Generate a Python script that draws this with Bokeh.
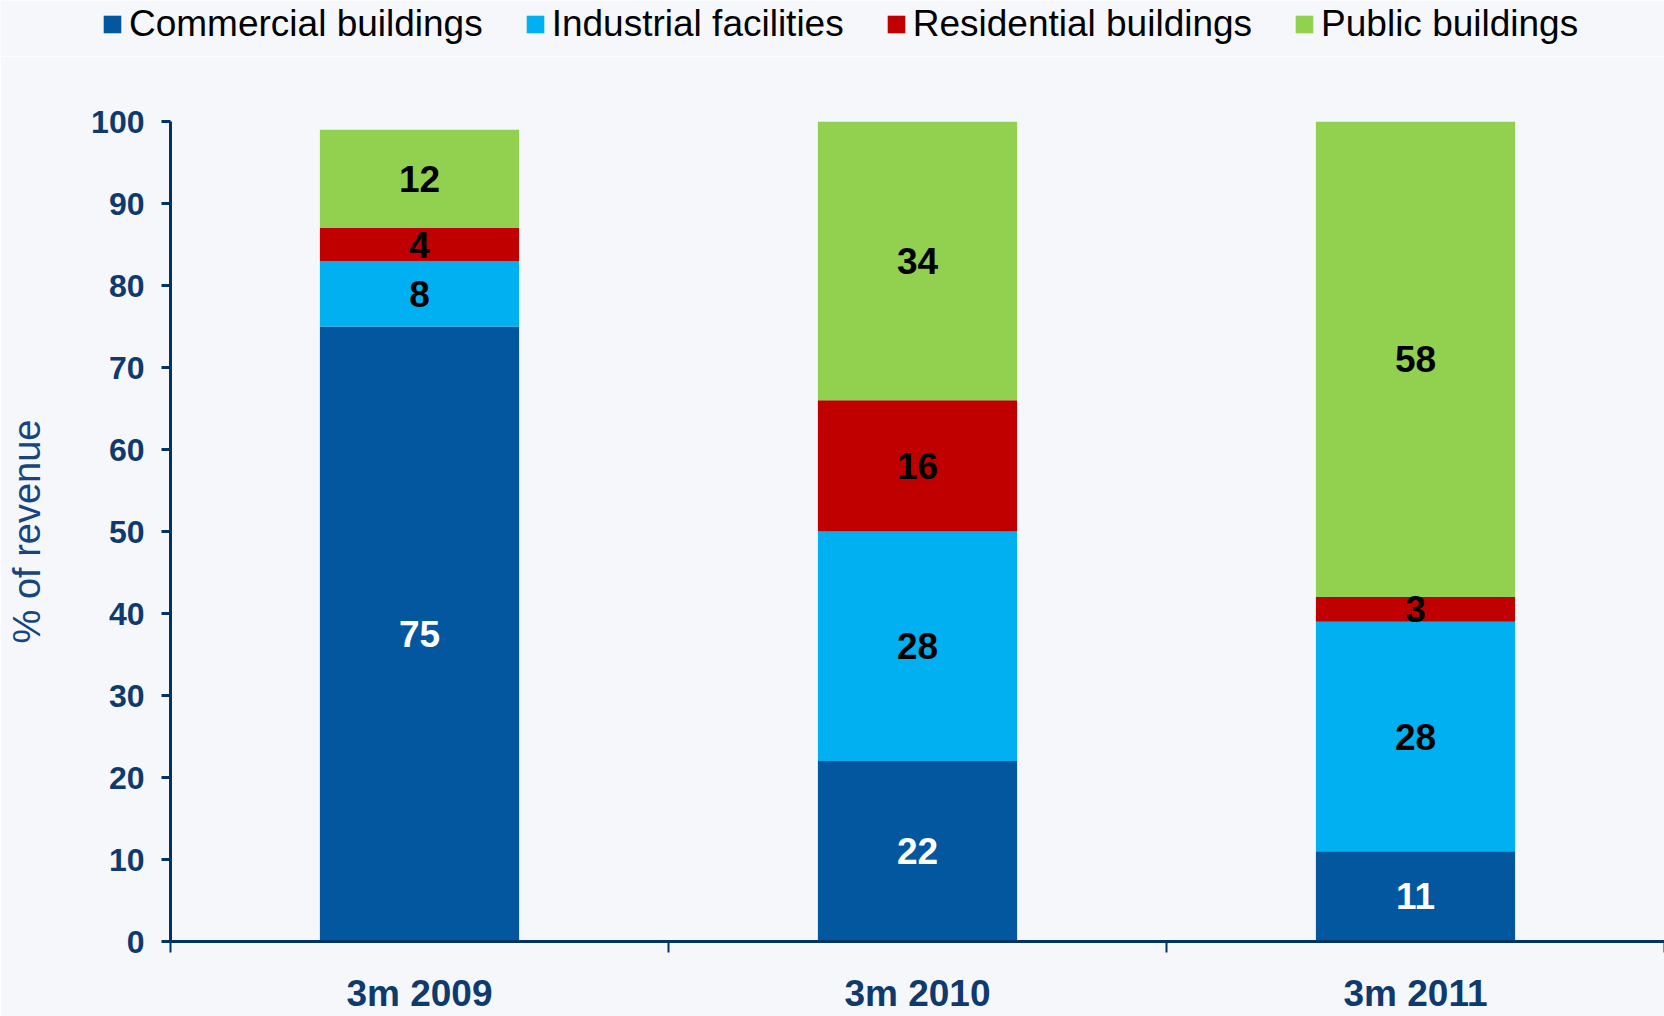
from bokeh.plotting import figure
from bokeh.layouts import column
from bokeh.models import ColumnDataSource, Range1d, FixedTicker, Legend, LegendItem
from bokeh.core.properties import value
from bokeh.embed import file_html
from bokeh.resources import INLINE

# ---- data ----
periods = ["3m 2009", "3m 2010", "3m 2011"]
series = ["Commercial buildings", "Industrial facilities", "Residential buildings", "Public buildings"]
commercial = [75, 22, 11]
industrial = [8, 28, 28]
residential = [4, 16, 3]
public = [12, 34, 58]
colors = ["#03579F", "#00B0F0", "#C00000", "#92D050"]
label_colors = ["white", "black", "black", "black"]
y_ticks = [0, 10, 20, 30, 40, 50, 60, 70, 80, 90, 100]

FONT = "Liberation Sans"
NAVY = "#003366"
BG = "#F5F7FB"

W = 1664
LEG_H = 56
FRAME_LEFT = 170
xs = [i + 0.5 for i in range(len(periods))]
keys = ["commercial", "industrial", "residential", "public"]
data = dict(x=xs, commercial=commercial, industrial=industrial,
            residential=residential, public=public)
src = ColumnDataSource(data)

# ---- main chart ----
p = figure(width=W, height=1016 - LEG_H, output_backend="svg", toolbar_location=None,
           x_range=Range1d(0, len(periods)), y_range=Range1d(0, 100),
           min_border_left=FRAME_LEFT, min_border_right=0, min_border_top=121 - LEG_H,
           min_border_bottom=74)
p.frame_align = False
p.background_fill_color = BG
p.border_fill_color = BG
p.outline_line_color = None
p.grid.visible = False

renderers = p.vbar_stack(keys, x="x", width=0.4, color=colors, source=src,
                         line_color=None)

# segment labels
bottoms = [0] * len(periods)
for k, vals, lc in zip(keys, [commercial, industrial, residential, public], label_colors):
    mids = [b + v / 2 for b, v in zip(bottoms, vals)]
    bottoms = [b + v for b, v in zip(bottoms, vals)]
    ls = ColumnDataSource(dict(x=xs, y=mids, t=[str(v) for v in vals]))
    p.text(x="x", y="y", text="t", source=ls, text_align="center", text_baseline="middle",
           text_font=value(FONT), text_font_style="bold", text_font_size="37px",
           text_color=lc)

# x axis: labels at centers, ticks at boundaries
xa = p.xaxis[0]
xa.ticker = FixedTicker(ticks=xs, minor_ticks=list(range(len(periods) + 1)))
xa.major_label_overrides = {x: lab for x, lab in zip(xs, periods)}
xa.major_tick_out = 0
xa.major_tick_in = 0
xa.minor_tick_out = 11
xa.minor_tick_in = 0
xa.minor_tick_line_color = NAVY
xa.minor_tick_line_width = 2
xa.axis_line_color = NAVY
xa.axis_line_width = 3
xa.major_label_text_font = FONT
xa.major_label_text_font_style = "bold"
xa.major_label_text_font_size = "37px"
xa.major_label_text_color = "#0E3A6E"
xa.major_label_standoff = 20

ya = p.yaxis[0]
ya.ticker = FixedTicker(ticks=y_ticks)
ya.minor_tick_line_color = None
ya.major_tick_out = 9
ya.major_tick_in = 0
ya.major_tick_line_color = NAVY
ya.major_tick_line_width = 3
ya.axis_line_color = NAVY
ya.axis_line_width = 3
ya.major_label_text_font = FONT
ya.major_label_text_font_style = "bold"
ya.major_label_text_font_size = "32px"
ya.major_label_text_color = "#0E3A6E"
ya.major_label_standoff = 17
ya.axis_label = "% of revenue"
ya.axis_label_text_font = FONT
ya.axis_label_text_font_style = "normal"
ya.axis_label_text_font_size = "38px"
ya.axis_label_text_color = "#16457F"
ya.axis_label_standoff = 40

# ---- legend strip (zero-height proxy bars only carry the legend swatches) ----
lf = figure(width=W, height=LEG_H, output_backend="svg", toolbar_location=None,
            x_range=Range1d(0, 1), y_range=Range1d(0, 1),
            x_axis_location=None, y_axis_location=None,
            min_border_left=0, min_border_right=0, min_border_top=0, min_border_bottom=0)
lf.frame_align = False
lf.background_fill_color = BG
lf.border_fill_color = BG
lf.outline_line_color = None
lf.grid.visible = False
proxy = ColumnDataSource(dict(x=[0.5], **{k: [0] for k in keys}))
leg_r = lf.vbar_stack(keys, x="x", width=0.01, color=colors, source=proxy, line_color=None)

legend = Legend(items=[LegendItem(label=s, renderers=[r]) for s, r in zip(series, leg_r)],
                orientation="horizontal", location=(101, LEG_H - 45),
                glyph_width=22, glyph_height=22, label_standoff=6, spacing=41,
                padding=0, margin=0, border_line_color=None, background_fill_alpha=0,
                label_text_font=FONT, label_text_font_size="37px", label_text_color="black",
                label_height=40)
lf.add_layout(legend)

layout = column(lf, p, spacing=0)
open("out.html", "w").write(file_html(layout, INLINE))
